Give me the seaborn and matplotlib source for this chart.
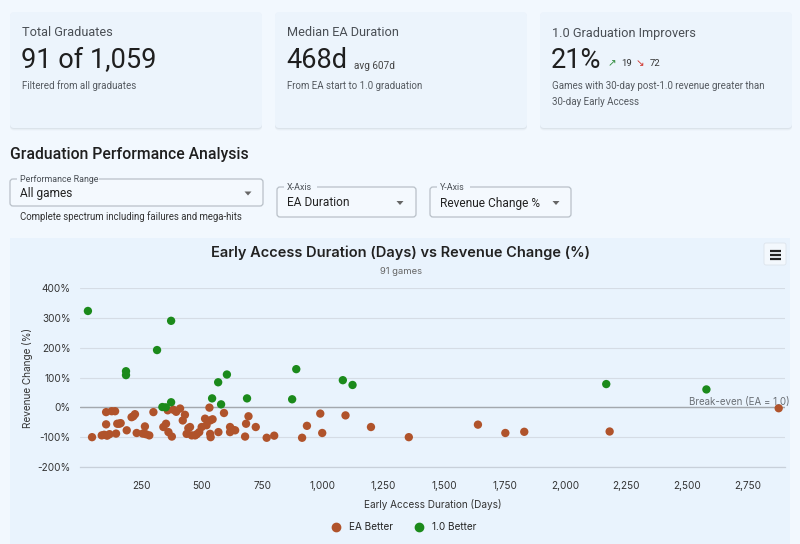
import matplotlib
matplotlib.use("Agg")
import matplotlib.pyplot as plt
from matplotlib.patches import FancyBboxPatch, Polygon, Rectangle
from matplotlib.ticker import FuncFormatter, FixedLocator
from matplotlib.lines import Line2D
import seaborn as sns
import pandas as pd

# ---------------- data ----------------
ea_better_days = [48, 88, 98, 106, 106, 110, 120, 129, 143, 147, 152, 160, 166, 191, 211, 218,
                  225, 232, 257, 266, 270, 284, 301, 342, 353, 360, 363, 377, 383, 395, 411,
                  422, 431, 438, 445, 452, 459, 473, 480, 490, 500, 514, 520, 532, 535, 535,
                  537, 545, 569, 592, 617, 617, 628, 638, 679, 683, 693, 723, 768, 799, 914,
                  934, 989, 997, 1093, 1198, 1354, 1639, 1752, 1830, 2182, 2879]
ea_better_change = [-100, -94, -92, -16, -57, -95, -90, -13, -13, -88, -55, -55, -53, -77, -33, -30,
                    -23, -86, -88, -64, -90, -94, -16, -66, -55, -10, -83, -98, -8, -15, -4,
                    -44, -25, -89, -70, -66, -94, -94, -90, -83, -66, -38, -60, -1, -44, -89,
                    -100, -40, -83, -19, -66, -83, -75, -77, -98, -55, -30, -66, -102, -95, -102,
                    -62, -21, -86, -27, -66, -100, -58, -86, -82, -81, -3]
one_better_days = [31, 188, 188, 316, 374, 338, 352, 374, 543, 568, 580, 604, 687, 873, 890,
                   1082, 1122, 2168, 2581]
one_better_change = [323, 121, 108, 192, 290, 1, 0, 17, 30, 84, 10, 110, 30, 27, 128,
                     91, 75, 78, 60]
series_names = ["EA Better", "1.0 Better"]
series_colors = ["#b0532b", "#1b8a1b"]
x_ticks = [250, 500, 750, 1000, 1250, 1500, 1750, 2000, 2250, 2500, 2750]
y_ticks = [-200, -100, 0, 100, 200, 300, 400]

df = pd.DataFrame({
    "days": ea_better_days + one_better_days,
    "change": ea_better_change + one_better_change,
    "outcome": [series_names[0]] * len(ea_better_days) + [series_names[1]] * len(one_better_days),
})

# ---------------- figure ----------------
sns.set_theme(style="white")
plt.rcParams["font.family"] = ["Roboto", "DejaVu Sans"]

W, H = 800, 544
fig = plt.figure(figsize=(W / 100, H / 100), dpi=100)
fig.patch.set_facecolor("#f2f8fe")

bg = fig.add_axes([0, 0, 1, 1], zorder=0)
bg.set_xlim(0, W)
bg.set_ylim(H, 0)
bg.axis("off")

def card(x0, y0, x1, y1, fc, shadow=True, r=4):
    if shadow:
        for off, a in [(2.5, 0.06), (1.5, 0.08), (0.8, 0.10)]:
            bg.add_patch(FancyBboxPatch((x0, y0 + off), x1 - x0, y1 - y0,
                                        boxstyle=f"round,pad=0,rounding_size={r}",
                                        fc="#8a96a8", ec="none", alpha=a))
    bg.add_patch(FancyBboxPatch((x0, y0), x1 - x0, y1 - y0,
                                boxstyle=f"round,pad=0,rounding_size={r}",
                                fc=fc, ec="none"))

# KPI cards
cards = [(10, 262), (275, 527), (540, 792)]
for x0, x1 in cards:
    card(x0, 12, x1, 128, "#ecf4fc")

tc = "#1f1f1f"
sub = "#555a60"
ttl = "#4a4f55"
bg.text(22, 33, "Total Graduates", fontsize=9.2, color=ttl, va="center")
bg.text(21, 61, "91 of 1,059", fontsize=19.5, color=tc, va="center")
bg.text(22, 86, "Filtered from all graduates", fontsize=7, color=sub, va="center")

bg.text(287, 33, "Median EA Duration", fontsize=9.2, color=ttl, va="center")
bg.text(286, 61, "468d", fontsize=19.5, color=tc, va="center")
bg.text(354, 66, "avg 607d", fontsize=7.2, color="#444", va="center")
bg.text(287, 86, "From EA start to 1.0 graduation", fontsize=7, color=sub, va="center")

bg.text(552, 33, "1.0 Graduation Improvers", fontsize=9.2, color=ttl, va="center")
bg.text(551, 61, "21%", fontsize=19.5, color=tc, va="center")
bg.text(608, 63, "↗", fontsize=7.5, color="#2e8b3a", va="center", family=["DejaVu Sans"])
bg.text(621, 63, "19", fontsize=6.8, color="#333", va="center")
bg.text(636, 63, "↘", fontsize=7.5, color="#d0342c", va="center", family=["DejaVu Sans"])
bg.text(650, 63, "72", fontsize=6.8, color="#333", va="center")
bg.text(552, 86, "Games with 30-day post-1.0 revenue greater than", fontsize=7, color=sub, va="center")
bg.text(552, 102, "30-day Early Access", fontsize=7, color=sub, va="center")

# Section header
bg.text(10, 155, "Graduation Performance Analysis", fontsize=11.3, color=tc, va="center",
        fontweight="medium")

def dropdown(x0, y0, x1, y1, label, value, tri_x):
    bg.add_patch(FancyBboxPatch((x0, y0), x1 - x0, y1 - y0,
                                boxstyle="round,pad=0,rounding_size=3",
                                fc="#f4f9fe", ec="#b9c0c8", lw=0.9))
    lw = len(label) * 4.4 + 7
    bg.add_patch(Rectangle((x0 + 7, y0 - 2), lw, 4, fc="#f2f8fe", ec="none"))
    bg.text(x0 + 10, y0, label, fontsize=6.4, color="#4a4f55", va="center")
    bg.text(x0 + 10, (y0 + y1) / 2 + 1, value, fontsize=8.6, color="#222", va="center")
    cy = (y0 + y1) / 2 + 1
    bg.add_patch(Polygon([[tri_x - 3.5, cy - 2], [tri_x + 3.5, cy - 2], [tri_x, cy + 2]],
                         closed=True, fc="#666", ec="none"))

dropdown(10, 179, 263, 206, "Performance Range", "All games", 248)
bg.text(20, 217, "Complete spectrum including failures and mega-hits", fontsize=6.9,
        color="#333", va="center")
dropdown(277, 187, 416, 217, "X-Axis", "EA Duration", 400)
dropdown(430, 187, 571, 217, "Y-Axis", "Revenue Change %", 556)

# Chart panel
bg.add_patch(Rectangle((10, 238), 780, 310, fc="#e9f3fd", ec="none"))
bg.text(401, 253, "Early Access Duration (Days) vs Revenue Change (%)", fontsize=10.5,
        color="#222", ha="center", va="center", fontweight="semibold", family=["Inter", "DejaVu Sans"])
bg.text(401, 272, "91 games", fontsize=6.8, color="#666", ha="center", va="center",
        family=["Inter", "DejaVu Sans"])
# menu button
bg.add_patch(FancyBboxPatch((764, 243), 22, 22, boxstyle="round,pad=0,rounding_size=2",
                            fc="#f3f8fd", ec="#dde4ec", lw=0.6))
for yy in (250.5, 254.5, 258.5):
    bg.plot([769.5, 780.5], [yy, yy], color="#222", lw=1.6, solid_capstyle="butt")

# ---------------- scatter ----------------
left, right = 80.4 / W, 785 / W
top, bottom = 1 - 288 / H, 1 - 467 / H
ax = fig.add_axes([left, bottom, right - left, top - bottom], zorder=2)
ax.set_facecolor("none")

sns.scatterplot(data=df, x="days", y="change", hue="outcome", hue_order=series_names,
                palette=series_colors, s=36, edgecolor="none", linewidth=0,
                legend=False, ax=ax, zorder=3)

ax.set_xlim(0, 2905)
ax.set_ylim(-200, 400)
ax.yaxis.set_major_locator(FixedLocator(y_ticks))
ax.xaxis.set_major_locator(FixedLocator(x_ticks))
ax.yaxis.set_major_formatter(FuncFormatter(lambda v, p: f"{v:.0f}%"))
ax.xaxis.set_major_formatter(FuncFormatter(lambda v, p: f"{v:,.0f}"))
ax.grid(axis="y", color="#d5dce5", lw=0.8)
ax.grid(axis="x", visible=False)
ax.set_axisbelow(True)
for s in ["top", "right", "left"]:
    ax.spines[s].set_visible(False)
ax.spines["bottom"].set_color("#c8d0da")
ax.spines["bottom"].set_linewidth(0.9)
ax.tick_params(axis="x", length=5, width=0.8, color="#c8d0da", pad=5,
               labelsize=7.2, labelcolor="#333")
ax.tick_params(axis="y", length=0, pad=7, labelsize=7.2, labelcolor="#333")
for lab in ax.get_xticklabels() + ax.get_yticklabels():
    lab.set_family(["Inter", "DejaVu Sans"])

ax.axhline(0, color="#a3a8ae", lw=1.0, zorder=2)
ax.text(1.006, 0, "Break-even (EA = 1.0)", transform=ax.get_yaxis_transform(),
        ha="right", va="bottom", fontsize=7, color="#6a6f75", zorder=4,
        family=["Inter", "DejaVu Sans"])

ax.set_xlabel("Early Access Duration (Days)", fontsize=7.2, color="#333", labelpad=6,
              family=["Inter", "DejaVu Sans"])
ax.set_ylabel("Revenue Change (%)", fontsize=7.2, color="#333", labelpad=3,
              family=["Inter", "DejaVu Sans"])

handles = [Line2D([], [], marker="o", ls="none", color=c, markersize=6) for c in series_colors]
fig.legend(handles, series_names, loc="center", bbox_to_anchor=(401 / W, 1 - 527 / H),
           ncol=2, frameon=False, handletextpad=0.3, columnspacing=1.6,
           prop={"family": ["Inter", "DejaVu Sans"], "size": 7.2})

fig.savefig("out.png", dpi=100, facecolor=fig.get_facecolor())
